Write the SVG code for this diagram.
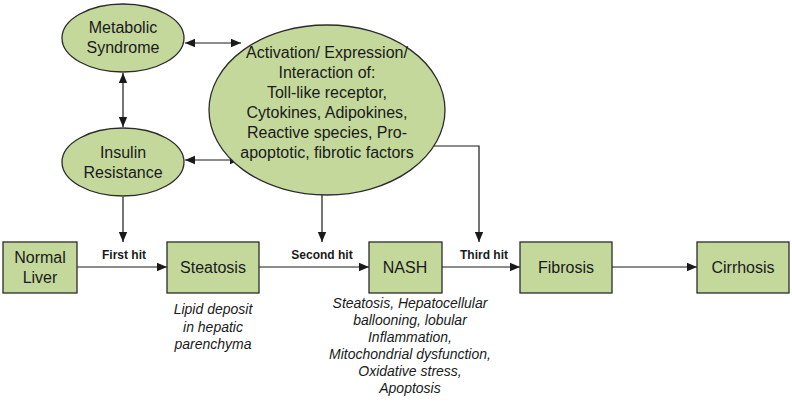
<svg xmlns="http://www.w3.org/2000/svg" width="792" height="403" viewBox="0 0 792 403">
<style>
.n{fill:#c4d89c;stroke:#2b2b2b;stroke-width:1.3}
.t{font-family:"Liberation Sans",Arial,sans-serif;font-size:16px;fill:#1a1a1a;text-anchor:middle}
.i{font-family:"Liberation Sans",Arial,sans-serif;font-size:14px;font-style:italic;fill:#1a1a1a;text-anchor:middle}
.h{font-family:"Liberation Sans",Arial,sans-serif;font-size:12px;font-weight:bold;fill:#1a1a1a;text-anchor:middle}
.c{fill:none;stroke:#1a1a1a;stroke-width:1.2}
</style>
<defs>
<marker id="a" viewBox="0 0 10 10" refX="10" refY="5" markerWidth="10" markerHeight="10" markerUnits="userSpaceOnUse" orient="auto-start-reverse">
<path d="M0,0.8 L10,5 L0,9.2 z" fill="#1a1a1a"/>
</marker>
</defs>
<g id="connectors">
<line class="c" x1="123" y1="73" x2="123" y2="127" marker-start="url(#a)" marker-end="url(#a)"/>
<line class="c" x1="185" y1="43" x2="241" y2="43" marker-start="url(#a)" marker-end="url(#a)"/>
<line class="c" x1="185" y1="160" x2="240" y2="160" marker-start="url(#a)" marker-end="url(#a)"/>
<line class="c" x1="123" y1="197" x2="123" y2="242" marker-end="url(#a)"/>
<line class="c" x1="322" y1="195" x2="322" y2="242" marker-end="url(#a)"/>
<polyline class="c" points="428,146 479,146 479,242" marker-end="url(#a)"/>
<line class="c" x1="77" y1="267" x2="167" y2="267" marker-end="url(#a)"/>
<line class="c" x1="259" y1="267" x2="369" y2="267" marker-end="url(#a)"/>
<line class="c" x1="442" y1="267" x2="520" y2="267" marker-end="url(#a)"/>
<line class="c" x1="612" y1="267" x2="697" y2="267" marker-end="url(#a)"/>
<text class="h" x="124" y="259">First hit</text>
<text class="h" x="322" y="259">Second hit</text>
<text class="h" x="484" y="259">Third hit</text>
</g>
<g id="metabolic">
<ellipse class="n" cx="123" cy="38" rx="61" ry="34"/>
<text class="t" x="123" y="33">Metabolic</text>
<text class="t" x="123" y="53">Syndrome</text>
</g>
<g id="insulin">
<ellipse class="n" cx="123" cy="162" rx="61" ry="34"/>
<text class="t" x="123" y="158">Insulin</text>
<text class="t" x="123" y="178">Resistance</text>
</g>
<g id="factors">
<ellipse class="n" cx="327" cy="110" rx="118" ry="85"/>
<text class="t" x="327" y="58">Activation/ Expression/</text>
<text class="t" x="327" y="78">Interaction of:</text>
<text class="t" x="327" y="98">Toll-like receptor,</text>
<text class="t" x="327" y="118">Cytokines, Adipokines,</text>
<text class="t" x="327" y="138">Reactive species, Pro-</text>
<text class="t" x="327" y="158">apoptotic, fibrotic factors</text>
</g>
<g id="normal">
<rect class="n" x="3" y="242" width="74" height="51"/>
<text class="t" x="40" y="263">Normal</text>
<text class="t" x="40" y="283">Liver</text>
</g>
<g id="steatosis">
<rect class="n" x="167" y="242" width="92" height="51"/>
<text class="t" x="213" y="273">Steatosis</text>
<text class="i" x="213" y="314">Lipid deposit</text>
<text class="i" x="213" y="332">in hepatic</text>
<text class="i" x="213" y="349">parenchyma</text>
</g>
<g id="nash">
<rect class="n" x="369" y="242" width="73" height="51"/>
<text class="t" x="405" y="273">NASH</text>
<text class="i" x="410" y="308">Steatosis, Hepatocellular</text>
<text class="i" x="410" y="325">ballooning, lobular</text>
<text class="i" x="410" y="342">Inflammation,</text>
<text class="i" x="410" y="359">Mitochondrial dysfunction,</text>
<text class="i" x="410" y="376">Oxidative stress,</text>
<text class="i" x="410" y="393">Apoptosis</text>
</g>
<g id="fibrosis">
<rect class="n" x="520" y="242" width="92" height="51"/>
<text class="t" x="566" y="273">Fibrosis</text>
</g>
<g id="cirrhosis">
<rect class="n" x="697" y="242" width="92" height="51"/>
<text class="t" x="743" y="273">Cirrhosis</text>
</g>
</svg>
